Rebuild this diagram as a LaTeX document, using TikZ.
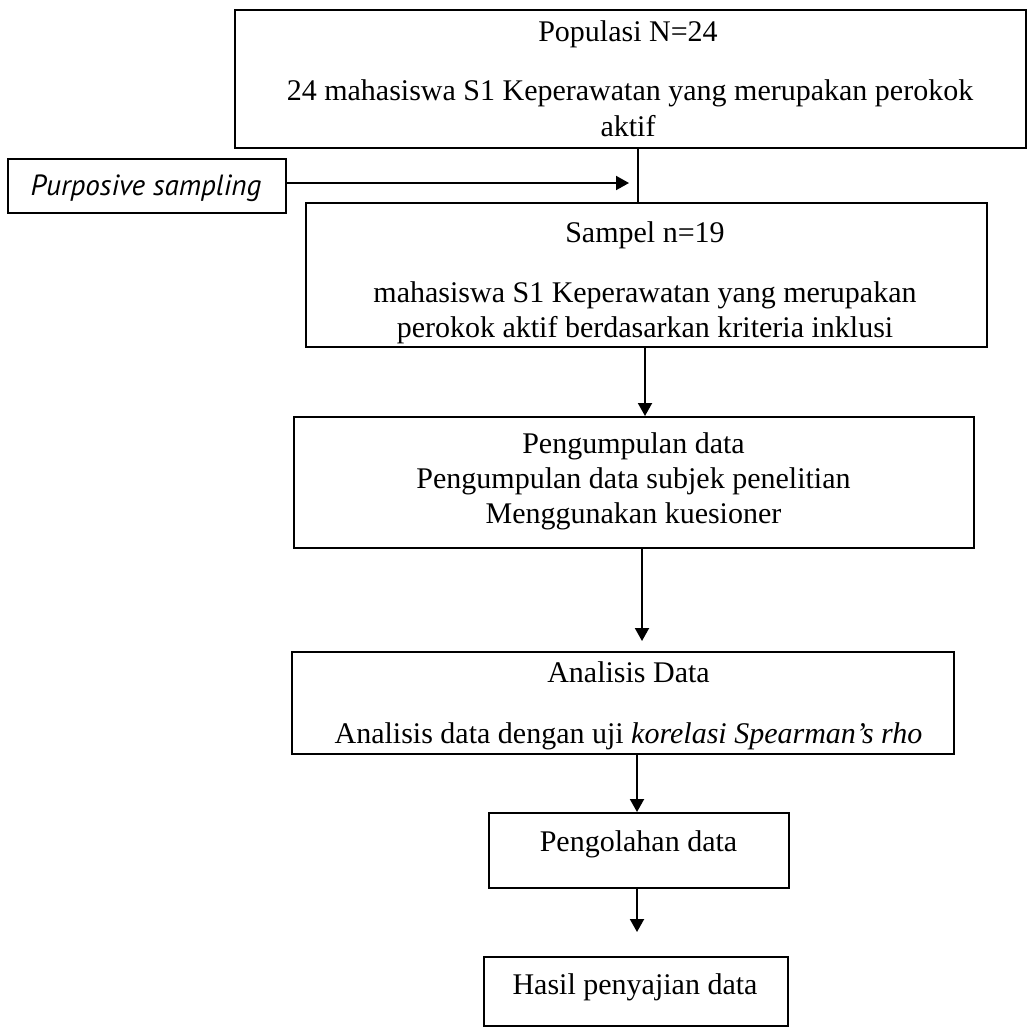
\documentclass[tikz,border=0pt]{standalone}
\usepackage{fontspec}
\setmainfont{Liberation Serif}
\newfontfamily\psfont{PT Sans}
\usetikzlibrary{arrows.meta}
\begin{document}
\begin{tikzpicture}[x=0.5pt,y=-0.5pt,
  boxnode/.style={draw=black,line width=1pt,rectangle,inner sep=0pt},
  txt/.style={anchor=base,inner sep=0pt,font=\fontsize{15}{17.5}\selectfont},
  conn/.style={line width=1pt,draw=black},
  arr/.style={conn,-{Triangle[length=6.5pt,width=7pt]}}]
\useasboundingbox[fill=white] (0,0) rectangle (1029,1029);
% boxes
\node[boxnode,minimum width=395.5pt,minimum height=69pt] (b1) at (630.5,79) {};
\node[boxnode,minimum width=139pt,minimum height=27pt] (ps) at (147,186) {};
\node[boxnode,minimum width=340.5pt,minimum height=72pt] (b2) at (646.5,275) {};
\node[boxnode,minimum width=340pt,minimum height=65.5pt] (b3) at (634,482.5) {};
\node[boxnode,minimum width=331pt,minimum height=51pt] (b4) at (623,703) {};
\node[boxnode,minimum width=150pt,minimum height=37.5pt] (b5) at (639,850.5) {};
\node[boxnode,minimum width=152pt,minimum height=34.5pt] (b6) at (635.5,991.5) {};
% texts
\node[txt] (t11) at (628,41) {Populasi N=24};
\node[txt] (t12) at (630,100) {24 mahasiswa S1 Keperawatan yang merupakan perokok};
\node[txt] (t13) at (628,136) {aktif};
\node[anchor=base,inner sep=0pt,font=\psfont\itshape\fontsize{14.6}{16}\selectfont] (tps) at (146,195) {Purposive sampling};
\node[txt] (t21) at (645,242) {Sampel n=19};
\node[txt] (t22) at (645,302) {mahasiswa S1 Keperawatan yang merupakan};
\node[txt] (t23) at (645,337) {perokok aktif berdasarkan kriteria inklusi};
\node[txt] (t31) at (633.5,453) {Pengumpulan data};
\node[txt] (t32) at (633.5,488) {Pengumpulan data subjek penelitian};
\node[txt] (t33) at (633.5,523) {Menggunakan kuesioner};
\node[txt] (t41) at (628.5,682) {Analisis Data};
\node[txt] (t42) at (628.5,743) {Analisis data dengan uji \textit{korelasi Spearman's rho}};
\node[txt] (t51) at (638.5,851) {Pengolahan data};
\node[txt] (t61) at (635,994) {Hasil penyajian data};
% trunk coordinates
\coordinate (k1) at (638,0);
\coordinate (k2) at (645,0);
\coordinate (k3) at (642,0);
\coordinate (k4) at (637,0);
\coordinate (k5) at (637,0);
% connectors
\draw[conn] (b1.south -| k1) -- (b2.north -| k1);
\draw[arr,shorten >=4.5pt] (ps.east |- 0,183) -- (k1 |- 0,183);
\draw[arr] (b2.south -| k2) -- (b3.north -| k2);
\draw[arr,shorten >=5pt] (b3.south -| k3) -- (b4.north -| k3);
\draw[arr] (b4.south -| k4) -- (b5.north -| k4);
\draw[arr,shorten >=12pt] (b5.south -| k5) -- (b6.north -| k5);
\end{tikzpicture}
\end{document}
